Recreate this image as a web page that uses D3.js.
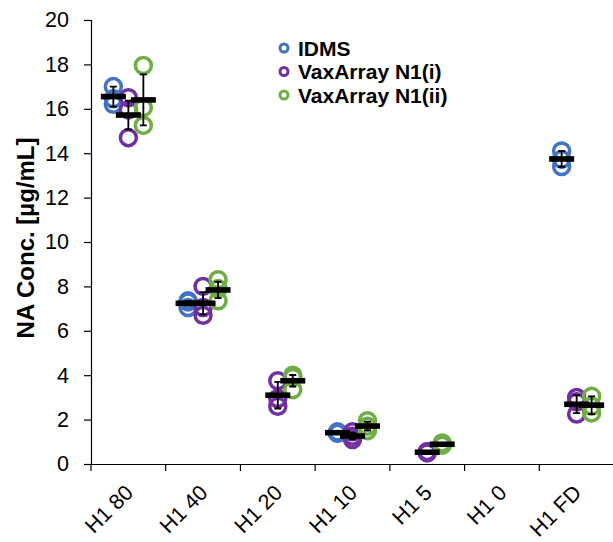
<!DOCTYPE html>
<html>
<head>
<meta charset="utf-8">
<script src="https://cdn.jsdelivr.net/npm/d3@7"></script>
<style>
  body { margin: 0; background: #fff; }
  text { font-family: "Liberation Sans", Arial, sans-serif; }
</style>
</head>
<body>
<div id="chart"></div>
<script>
var categories = ["H1 80", "H1 40", "H1 20", "H1 10", "H1 5", "H1 0", "H1 FD"];
var seriesNames = ["IDMS", "VaxArray N1(i)", "VaxArray N1(ii)"];
var seriesColors = ["#4472C4", "#7030A0", "#70AD47"];

// individual replicates per category
var idmsPoints = [[17.0, 16.45, 16.2], [7.35, 7.05, 7.3], [], [1.45, 1.4, 1.38], [], [], [14.1, 13.4, 13.72]];
var n1iPoints = [[16.5, 15.95, 14.7], [8.0, 7.05, 6.7], [3.75, 2.95, 2.6], [1.45, 1.1, 1.25], [0.55, 0.5, 0.55], [], [3.0, 2.25, 2.8]];
var n1iiPoints = [[17.95, 16.05, 15.25], [8.3, 7.35, 7.9], [4.0, 3.35, 3.9], [1.95, 1.5, 1.7], [0.95, 0.85, 0.88], [], [3.05, 2.3, 2.6]];

// mean and error bar half-width
var idmsMean = [16.55, 7.24, null, 1.41, null, null, 13.74];
var idmsErr = [0.45, 0.1, null, 0.05, null, null, 0.35];
var n1iMean = [15.72, 7.24, 3.1, 1.26, 0.53, null, 2.69];
var n1iErr = [0.65, 0.5, 0.6, 0.15, 0.05, null, 0.4];
var n1iiMean = [16.4, 7.84, 3.75, 1.71, 0.89, null, 2.65];
var n1iiErr = [1.15, 0.37, 0.26, 0.2, 0.05, null, 0.4];

var yTicks = [0, 2, 4, 6, 8, 10, 12, 14, 16, 18, 20];

var width = 613,
    height = 542;

var svg = d3.select("#chart")
    .append("svg")
    .attr("width", width)
    .attr("height", height);

var x = d3.scaleBand()
    .domain(categories)
    .range([91, 614]);

var y = d3.scaleLinear()
    .domain([0, 20])
    .range([464, 20]);

var offsets = [-15, 0, 15];

var series = [
    { points: idmsPoints, mean: idmsMean, err: idmsErr },
    { points: n1iPoints, mean: n1iMean, err: n1iErr },
    { points: n1iiPoints, mean: n1iiMean, err: n1iiErr }
];

// axes
var yAxis = svg.append("g")
    .attr("transform", "translate(91,0)")
    .call(d3.axisLeft(y).tickValues(yTicks).tickSize(7).tickPadding(15));
yAxis.select(".domain").attr("stroke", "#000").attr("stroke-width", 1.2);
yAxis.selectAll(".tick line").attr("stroke", "#000").attr("stroke-width", 1.2);
yAxis.selectAll(".tick text")
    .style("font-size", "21.5px")
    .attr("fill", "#000");

var xAxis = svg.append("g")
    .attr("transform", "translate(0,464)")
    .call(d3.axisBottom(x).tickSize(0).tickFormat(""));
xAxis.select(".domain").attr("stroke", "#000").attr("stroke-width", 1.2);

svg.append("g")
    .selectAll("line")
    .data(categories)
    .enter()
    .append("line")
    .attr("x1", function (d) { return x(d); })
    .attr("x2", function (d) { return x(d); })
    .attr("y1", 464)
    .attr("y2", 471)
    .attr("stroke", "#000")
    .attr("stroke-width", 1.2);

svg.append("g")
    .selectAll("text")
    .data(categories)
    .enter()
    .append("text")
    .attr("transform", function (d) {
        return "translate(" + (x(d) + x.bandwidth() / 2 + 6) + ",494) rotate(-45)";
    })
    .attr("text-anchor", "end")
    .style("font-size", "21.5px")
    .text(function (d) { return d; });

svg.append("text")
    .attr("transform", "translate(34,238) rotate(-90)")
    .attr("text-anchor", "middle")
    .style("font-size", "24px")
    .style("font-weight", "bold")
    .text("NA Conc. [µg/mL]");

// replicate circles
series.forEach(function (s, si) {
    var pts = [];
    s.points.forEach(function (vals, ci) {
        vals.forEach(function (v) { pts.push({ c: categories[ci], v: v }); });
    });
    svg.append("g")
        .selectAll("circle")
        .data(pts)
        .enter()
        .append("circle")
        .attr("cx", function (d) { return x(d.c) + x.bandwidth() / 2 + offsets[si]; })
        .attr("cy", function (d) { return y(d.v); })
        .attr("r", 8)
        .attr("fill", "none")
        .attr("stroke", seriesColors[si])
        .attr("stroke-width", 3.5);
});

// error bars and mean dashes
series.forEach(function (s, si) {
    var rows = [];
    s.mean.forEach(function (m, ci) {
        if (m != null) rows.push({ c: categories[ci], m: m, e: s.err[ci] });
    });
    var g = svg.append("g");
    var cx = function (d) { return x(d.c) + x.bandwidth() / 2 + offsets[si]; };

    g.selectAll(".err")
        .data(rows)
        .enter()
        .append("path")
        .attr("d", function (d) {
            var c = cx(d), t = y(d.m + d.e), b = y(d.m - d.e);
            return "M" + c + "," + t + "V" + b +
                "M" + (c - 3.5) + "," + t + "H" + (c + 3.5) +
                "M" + (c - 3.5) + "," + b + "H" + (c + 3.5);
        })
        .attr("stroke", "#000")
        .attr("stroke-width", 1.8)
        .attr("fill", "none");

    g.selectAll(".mean")
        .data(rows)
        .enter()
        .append("rect")
        .attr("x", function (d) { return cx(d) - 12.5; })
        .attr("y", function (d) { return y(d.m) - 2.8; })
        .attr("width", 25)
        .attr("height", 5.6)
        .attr("fill", "#000");
});

// legend
var legend = svg.append("g")
    .selectAll("g")
    .data(seriesNames)
    .enter()
    .append("g")
    .attr("transform", function (d, i) { return "translate(284," + (48 + i * 23.5) + ")"; });

legend.append("circle")
    .attr("r", 4)
    .attr("fill", "none")
    .attr("stroke", function (d, i) { return seriesColors[i]; })
    .attr("stroke-width", 3);

legend.append("text")
    .attr("x", 14)
    .attr("y", 7.5)
    .style("font-size", "21px")
    .style("font-weight", "bold")
    .text(function (d) { return d; });
</script>
</body>
</html>
